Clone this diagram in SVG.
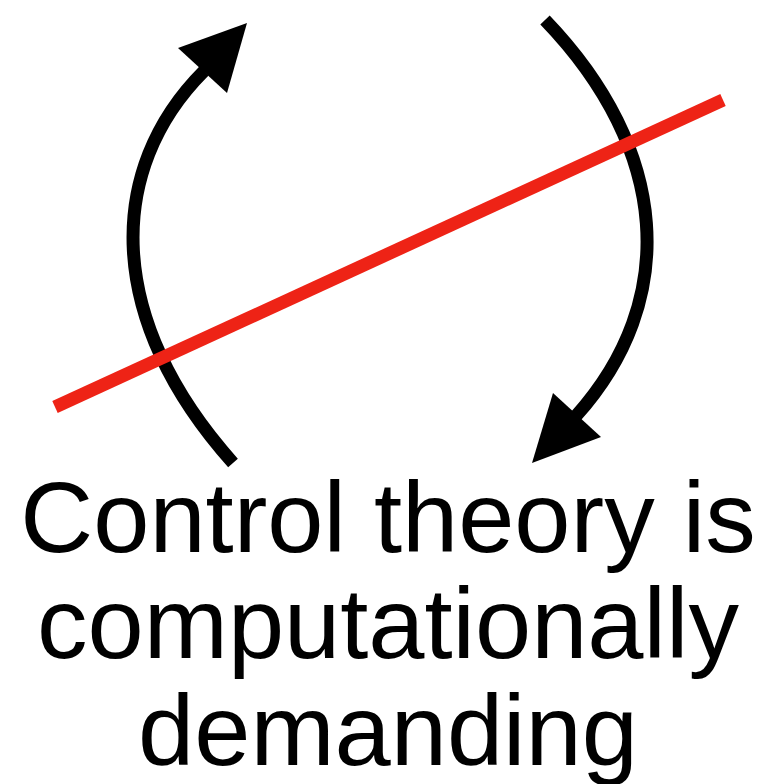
<svg xmlns="http://www.w3.org/2000/svg" width="769" height="784" viewBox="0 0 769 784">
  <style>
    .arc { fill: none; stroke: #000; stroke-width: 13; }
    .head { fill: #000; stroke: none; }
    .strike { stroke: #ee2316; stroke-width: 13; stroke-linecap: butt; }
    .label { font-family: "Liberation Sans", Arial, sans-serif; font-size: 101px; fill: #000; text-anchor: middle; }
  </style>
  <rect width="769" height="784" fill="#fff"/>
  <g id="connectors">
    <g id="left-arc">
      <path class="arc" d="M233,463 C105,320 105,170 204,71"/>
      <polygon class="head" points="247,23 178,48 227,93"/>
    </g>
    <g id="right-arc">
      <path class="arc" d="M545,20 C670,150 680,300 576,416"/>
      <polygon class="head" points="532,463 553,393 601,437"/>
    </g>
    <line id="strike" class="strike" x1="55" y1="407" x2="723" y2="100"/>
  </g>
  <g id="caption">
    <text class="label" x="388" y="552">Control theory is</text>
    <text class="label" x="388" y="658">computationally</text>
    <text class="label" x="388" y="765">demanding</text>
  </g>
</svg>
